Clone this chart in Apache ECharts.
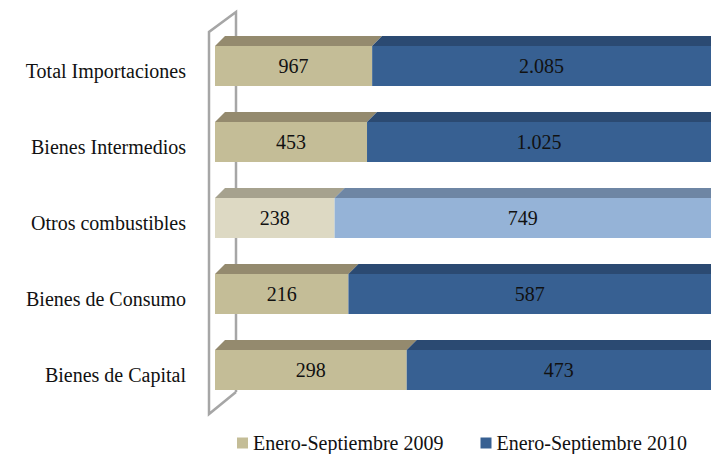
<!DOCTYPE html>
<html>
<head>
<meta charset="utf-8">
<script src="https://cdn.jsdelivr.net/npm/echarts@6/dist/echarts.min.js"></script>
<style>
  html, body { margin: 0; padding: 0; background: #fff; }
  #chart { width: 711px; height: 454px; }
</style>
</head>
<body>
<div id="chart"></div>
<script>
const categories = ['Total Importaciones', 'Bienes Intermedios', 'Otros combustibles', 'Bienes de Consumo', 'Bienes de Capital']
const seriesNames = ['Enero-Septiembre 2009', 'Enero-Septiembre 2010']
const values2009 = [967, 453, 238, 216, 298]
const values2010 = [2085, 1025, 749, 587, 473]

// front / top colours, normal rows and the highlighted (light) row
const palettes = [
  { normal: { front: '#C4BD97', top: '#948A6E' }, light: { front: '#DDD9C3', top: '#A6A28E' } },
  { normal: { front: '#376092', top: '#2B4A72' }, light: { front: '#95B3D7', top: '#6E86A4' } }
]
const lightRow = 2
const serif = '"Liberation Serif", "DejaVu Serif", serif'

const fmt = (n) => String(n).replace(/\B(?=(\d{3})+(?!\d))/g, '.')

const data2009 = []
const data2010 = []
categories.forEach((c, i) => {
  const total = values2009[i] + values2010[i]
  const split = values2009[i] / total
  data2009.push([0, split, i, values2009[i]])
  data2010.push([split, 1, i, values2010[i]])
})

const renderItem = (params, api) => {
  const cat = api.value(2)
  const p0 = api.coord([api.value(0), cat])
  const p1 = api.coord([api.value(1), cat])
  const pal = palettes[params.seriesIndex][cat === lightRow ? 'light' : 'normal']
  const x0 = p0[0]
  const x1 = p1[0]
  const cy = p0[1]
  const top = cy - 25
  const bot = cy + 15
  const d = 10
  return {
    type: 'group',
    children: [
      {
        type: 'polygon',
        shape: { points: [[x0, top], [x0 + d, top - d], [x1 + d, top - d], [x1, top]] },
        style: { fill: pal.top }
      },
      {
        type: 'rect',
        shape: { x: x0, y: top, width: x1 - x0, height: bot - top },
        style: { fill: pal.front }
      },
      {
        type: 'text',
        x: (x0 + x1) / 2,
        y: (top + bot) / 2,
        style: {
          text: fmt(api.value(3)),
          align: 'center',
          verticalAlign: 'middle',
          font: '20px ' + serif,
          fill: '#111'
        }
      }
    ]
  }
}

const chart = echarts.init(document.getElementById('chart'), null, { renderer: 'svg' })

chart.setOption({
  animation: false,
  grid: { left: 215, right: 0, top: 33, height: 380 },
  xAxis: { type: 'value', min: 0, max: 1, show: false },
  yAxis: {
    type: 'category',
    inverse: true,
    data: categories,
    axisLine: { show: false },
    axisTick: { show: false },
    axisLabel: { margin: 29, color: '#111', fontSize: 20, fontFamily: serif }
  },
  legend: {
    left: 237,
    top: 433,
    itemGap: 37,
    itemWidth: 11,
    itemHeight: 11,
    icon: 'rect',
    padding: 0,
    textStyle: { color: '#111', fontSize: 20, fontFamily: serif },
    data: seriesNames
  },
  graphic: [
    {
      type: 'polyline',
      z: 0,
      shape: { points: [[236, 392], [236, 12], [209, 32], [209, 414], [236, 392]] },
      style: { stroke: '#A6A6A6', lineWidth: 2.5, fill: null }
    }
  ],
  series: [
    {
      name: seriesNames[0],
      type: 'custom',
      renderItem,
      encode: { x: [0, 1], y: 2 },
      itemStyle: { color: palettes[0].normal.front },
      data: data2009
    },
    {
      name: seriesNames[1],
      type: 'custom',
      renderItem,
      encode: { x: [0, 1], y: 2 },
      itemStyle: { color: palettes[1].normal.front },
      data: data2010
    }
  ]
})
</script>
</body>
</html>
